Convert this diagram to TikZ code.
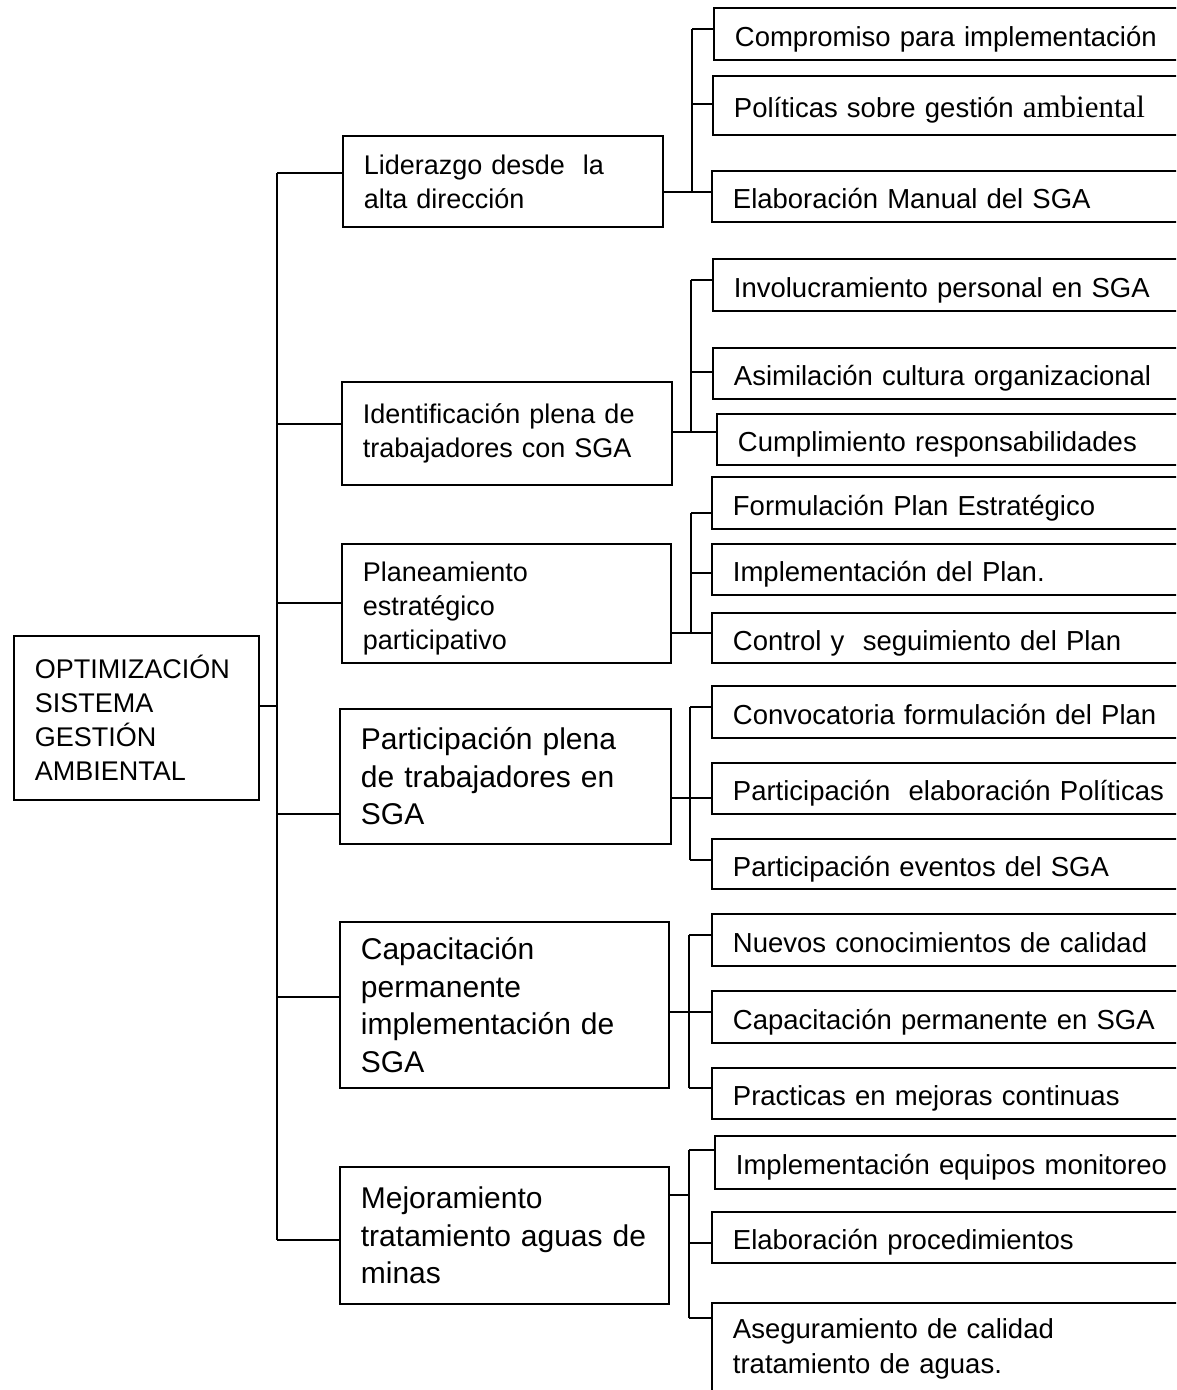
\documentclass[tikz,border=0pt]{standalone}
\usepackage{fontspec}
\setmainfont{Liberation Sans}
\newfontfamily\serifpart{Liberation Serif}
\begin{document}
\begin{tikzpicture}[x=1pt,y=-1pt,line width=1.8pt,
  box/.style={draw,rectangle,align=left,anchor=north west,inner xsep=21pt,inner ysep=0pt,
    font=\fontsize{27}{34}\selectfont},
  bigbox/.style={box,font=\fontsize{30}{37.5}\selectfont},
  leaf/.style={box,inner xsep=21pt,font=\fontsize{27.5}{35}\selectfont},
  oneline/.style={leaf,text height=31pt,text depth=6pt}]
\clip (0,0) rectangle (1176,1390);

% root
\node[box,minimum width=245pt,minimum height=164pt,text width=203pt,inner xsep=20pt]
  (root) at (13,635) {OPTIMIZACIÓN\\SISTEMA\\GESTIÓN\\AMBIENTAL};

% first level
\node[box,minimum width=320pt,minimum height=91pt,text width=278pt] (L1) at (342,135)
  {Liderazgo desde\ \ la\\alta dirección};
\node[box,minimum width=330pt,minimum height=103pt,text width=288pt] (L2) at (341,381)
  {Identificación plena de\\trabajadores con SGA};
\node[box,minimum width=329pt,minimum height=119pt,text width=287pt,text depth=64pt] (L3) at (341,543)
  {Planeamiento\\estratégico\\participativo};
\node[bigbox,minimum width=331pt,minimum height=135pt,text width=289pt] (L4) at (339,708)
  {Participación plena\\de trabajadores en\\SGA};
\node[bigbox,minimum width=329pt,minimum height=166pt,text width=287pt] (L5) at (339,921)
  {Capacitación\\permanente\\implementación de\\SGA};
\node[bigbox,minimum width=329pt,minimum height=137pt,text width=287pt] (L6) at (339,1166)
  {Mejoramiento\\tratamiento aguas de\\minas};

% second level (boxes run past the right edge)
\node[oneline,minimum height=52pt,text width=445pt] (C11) at (713,7) {Compromiso para implementación};
\node[oneline,minimum height=59pt,text width=446pt] (C12) at (712,75) {Políticas sobre gestión {\serifpart\fontsize{31}{35}\selectfont ambiental}};
\node[oneline,minimum height=51pt,text width=447pt] (C13) at (711,170) {Elaboración Manual del SGA};

\node[oneline,minimum height=52pt,text width=446pt] (C21) at (712,258) {Involucramiento personal en SGA};
\node[oneline,minimum height=51pt,text width=446pt] (C22) at (712,347) {Asimilación cultura organizacional};
\node[oneline,minimum height=51pt,text width=442pt] (C23) at (716,413) {Cumplimiento responsabilidades};

\node[oneline,minimum height=52pt,text width=447pt] (C31) at (711,476) {Formulación Plan Estratégico};
\node[oneline,minimum height=51pt,text width=447pt] (C32) at (711,543) {Implementación del Plan.};
\node[oneline,minimum height=50pt,text width=447pt] (C33) at (711,612) {Control y\ \ seguimiento del Plan};

\node[oneline,minimum height=52pt,text width=447pt] (C41) at (711,685) {Convocatoria formulación del Plan};
\node[oneline,minimum height=51pt,text width=447pt] (C42) at (711,762) {Participación\ \ elaboración Políticas};
\node[oneline,minimum height=50pt,text width=447pt] (C43) at (711,838) {Participación eventos del SGA};

\node[oneline,minimum height=52pt,text width=447pt] (C51) at (711,913) {Nuevos conocimientos de calidad};
\node[oneline,minimum height=52pt,text width=447pt] (C52) at (711,990) {Capacitación permanente en SGA};
\node[oneline,minimum height=51pt,text width=447pt] (C53) at (711,1067) {Practicas en mejoras continuas};

\node[oneline,minimum height=53pt,text width=444pt] (C61) at (714,1135) {Implementación equipos monitoreo};
\node[oneline,minimum height=51pt,text width=447pt] (C62) at (711,1211) {Elaboración procedimientos};
\node[leaf,minimum height=91pt,text width=447pt] (C63) at (711,1302) {Aseguramiento de calidad\\tratamiento de aguas.};

% trunk joining the root to the first level
\coordinate (j0) at (277,706);
\coordinate (j1) at (277,173);
\coordinate (j2) at (277,424);
\coordinate (j3) at (277,603);
\coordinate (j4) at (277,814);
\coordinate (j5) at (277,997);
\coordinate (j6) at (277,1240);
\draw (j0 -| root.east) -- (j0);
\draw (j1) -- (j6);
\foreach \i in {1,...,6} { \draw (j\i) -- (j\i -| L\i.west); }

% brackets joining each first-level box to its three items
\coordinate (s1) at (692,192);
\coordinate (b11) at (692,29);   \coordinate (b12) at (692,104);  \coordinate (b13) at (692,192);
\coordinate (s2) at (691,432);
\coordinate (b21) at (691,280);  \coordinate (b22) at (691,372);  \coordinate (b23) at (691,432);
\coordinate (s3) at (691,633);
\coordinate (b31) at (691,513);  \coordinate (b32) at (691,573);  \coordinate (b33) at (691,633);
\coordinate (s4) at (690,798);
\coordinate (b41) at (690,707);  \coordinate (b42) at (690,798);  \coordinate (b43) at (690,860);
\coordinate (s5) at (689,1012);
\coordinate (b51) at (689,935);  \coordinate (b52) at (689,1012); \coordinate (b53) at (689,1088);
\coordinate (s6) at (689,1195);
\coordinate (b61) at (689,1150); \coordinate (b62) at (689,1243); \coordinate (b63) at (689,1318);

\foreach \g in {1,...,6} {
  \draw (b\g1) -- (b\g3);
  \draw (s\g -| L\g.east) -- (s\g);
  \foreach \k in {1,2,3} { \draw (b\g\k) -- (b\g\k -| C\g\k.west); }
}
\end{tikzpicture}
\end{document}
